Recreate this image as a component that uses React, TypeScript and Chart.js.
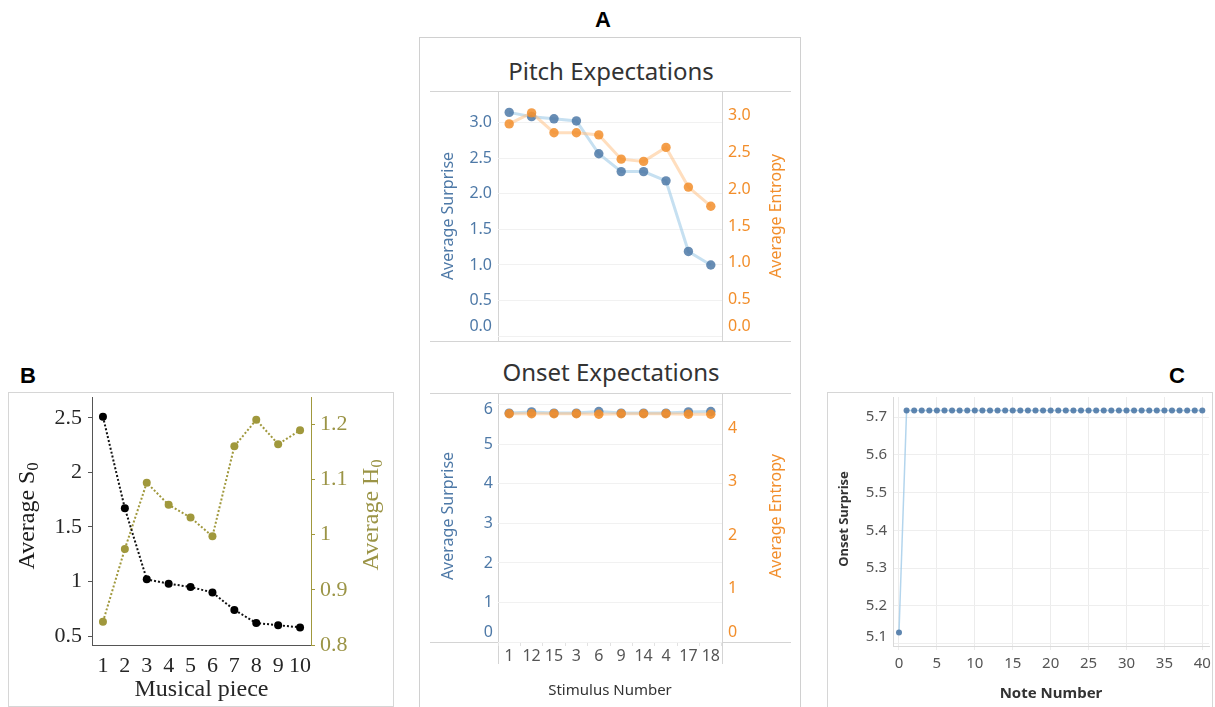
import React, { useEffect, useRef } from 'react';
import { Chart, registerables } from 'chart.js';

Chart.register(...registerables);

// ---------- Panel A data ----------
const stimulusNumbers = ['1', '12', '15', '3', '6', '9', '14', '4', '17', '18'];
const pitchSurprise = [3.14, 3.08, 3.05, 3.02, 2.56, 2.31, 2.31, 2.18, 1.19, 1.0];
const pitchEntropy = [2.89, 3.04, 2.77, 2.77, 2.74, 2.41, 2.38, 2.57, 2.03, 1.77];
const onsetSurprise = [5.79, 5.82, 5.79, 5.79, 5.83, 5.79, 5.79, 5.79, 5.82, 5.83];
const onsetEntropy = [4.27, 4.27, 4.27, 4.27, 4.26, 4.27, 4.27, 4.27, 4.26, 4.26];
const pitchSurpriseTicks = [0, 0.5, 1, 1.5, 2, 2.5, 3];
const pitchEntropyTicks = [0, 0.5, 1, 1.5, 2, 2.5, 3];
const onsetSurpriseTicks = [0, 1, 2, 3, 4, 5, 6];
const onsetEntropyTicks = [0, 1, 2, 3, 4];

// ---------- Panel B data ----------
const musicalPieces = [1, 2, 3, 4, 5, 6, 7, 8, 9, 10];
const averageS0 = [2.51, 1.67, 1.02, 0.98, 0.95, 0.9, 0.74, 0.62, 0.6, 0.58];
const averageH0 = [0.842, 0.974, 1.094, 1.054, 1.031, 0.997, 1.16, 1.208, 1.164, 1.189];
const s0Ticks = [0.5, 1, 1.5, 2, 2.5];
const h0Ticks = [0.8, 0.9, 1, 1.1, 1.2];
const pieceTicks = [1, 2, 3, 4, 5, 6, 7, 8, 9, 10];

// ---------- Panel C data ----------
const noteNumbers = [0, 1, 2, 3, 4, 5, 6, 7, 8, 9, 10, 11, 12, 13, 14, 15, 16, 17, 18, 19, 20,
  21, 22, 23, 24, 25, 26, 27, 28, 29, 30, 31, 32, 33, 34, 35, 36, 37, 38, 39, 40];
const noteOnsetSurprise = [5.129, 5.717, 5.717, 5.717, 5.717, 5.717, 5.717, 5.717, 5.717, 5.717, 5.717,
  5.717, 5.717, 5.717, 5.717, 5.717, 5.717, 5.717, 5.717, 5.717, 5.717,
  5.717, 5.717, 5.717, 5.717, 5.717, 5.717, 5.717, 5.717, 5.717, 5.717,
  5.717, 5.717, 5.717, 5.717, 5.717, 5.717, 5.717, 5.717, 5.717, 5.717];
const noteTicks = [0, 5, 10, 15, 20, 25, 30, 35, 40];
const onsetNoteTicks = [5.1, 5.2, 5.3, 5.4, 5.5, 5.6, 5.7];

// ---------- colours & fonts ----------
const BLUE = 'rgb(78,121,167)';
const ORANGE = 'rgb(242,142,43)';
const OLIVE = 'rgb(160,152,60)';
const OLIVE_TEXT = 'rgb(155,148,70)';
const SANS = '"Noto Sans", "Open Sans", sans-serif';
const SERIF = '"Liberation Serif", "DejaVu Serif", serif';

// ---------- helpers ----------
const fixW = (w: number) => (s: any) => { s.width = w; s.paddingTop = 0; s.paddingBottom = 0; };
const fixH = (h: number) => (s: any) => { s.height = h; s.paddingLeft = 0; s.paddingRight = 0; };
const setTicks = (arr: number[]) => (s: any) => { s.ticks = arr.map((v) => ({ value: v })); };

// shift individual edge labels (Tableau pushes clipped edge labels inward)
function edgeTickOpts(size: number, family: string, color: string, fmt: (v: number) => string,
  edges: { value: number; shift: number }[], padding: number) {
  const find = (v: number) => edges.find((e) => Math.abs(e.value - v) < 1e-9);
  return {
    color,
    padding,
    autoSkip: false,
    callback: (v: any) => {
      const e = find(Number(v));
      const t = fmt(Number(v));
      if (!e) return t;
      return e.shift > 0 ? [t, ''] : ['', t];
    },
    font: (ctx: any) => {
      const e = ctx.tick ? find(ctx.tick.value) : undefined;
      return { size, family, lineHeight: e ? `${Math.abs(e.shift) * 2}px` : 1.2 };
    },
  };
}

const rotatedTitles = {
  id: 'rotatedTitles',
  afterDraw(chart: any, _a: any, opts: any) {
    const items = (opts && opts.items) || [];
    const ctx = chart.ctx;
    items.forEach((it: any) => {
      ctx.save();
      ctx.translate(it.x, it.y);
      ctx.rotate(-Math.PI / 2);
      ctx.fillStyle = it.color;
      ctx.textBaseline = 'middle';
      ctx.font = it.font;
      if (it.sub) {
        const mw = ctx.measureText(it.text).width;
        ctx.font = it.subFont;
        const sw = ctx.measureText(it.sub).width;
        const start = -(mw + sw) / 2;
        ctx.textAlign = 'left';
        ctx.font = it.font;
        ctx.fillText(it.text, start, 0);
        ctx.font = it.subFont;
        ctx.fillText(it.sub, start + mw, it.subDy);
      } else {
        ctx.textAlign = 'center';
        ctx.fillText(it.text, 0, 0);
      }
      ctx.restore();
    });
  },
};

const basePlugins = { legend: { display: false }, tooltip: { enabled: false } };

// ---------- configs ----------
function pitchConfig(): any {
  return {
    type: 'line',
    data: {
      labels: stimulusNumbers,
      datasets: [
        {
          label: 'Average Entropy', data: pitchEntropy, yAxisID: 'yR',
          borderColor: 'rgba(255,190,125,0.5)', borderWidth: 3, tension: 0,
          pointRadius: 4.7, pointBackgroundColor: 'rgba(242,142,43,0.85)', pointBorderWidth: 0,
        },
        {
          label: 'Average Surprise', data: pitchSurprise, yAxisID: 'yL',
          borderColor: 'rgba(160,203,232,0.6)', borderWidth: 3, tension: 0,
          pointRadius: 4.7, pointBackgroundColor: 'rgba(78,121,167,0.85)', pointBorderWidth: 0,
        },
      ],
    },
    options: {
      responsive: false, animation: false, events: [],
      layout: { padding: 0 },
      plugins: {
        ...basePlugins,
        rotatedTitles: {
          items: [
            { text: 'Average Surprise', x: 18, y: 124, color: BLUE, font: `16px ${SANS}` },
            { text: 'Average Entropy', x: 346, y: 124, color: ORANGE, font: `16px ${SANS}` },
          ],
        },
      },
      scales: {
        x: { type: 'category', offset: true, display: false, afterFit: fixH(0) },
        yL: {
          position: 'left', min: 0, max: 3.36,
          afterBuildTicks: setTicks(pitchSurpriseTicks), afterFit: fixW(68),
          border: { display: false },
          grid: { color: '#f1f1f1', drawTicks: false },
          ticks: edgeTickOpts(16, SANS, BLUE, (v) => v.toFixed(1), [{ value: 0, shift: 10 }], 6),
        },
        yR: {
          position: 'right', min: 0, max: 3.26,
          afterBuildTicks: setTicks(pitchEntropyTicks), afterFit: fixW(69),
          border: { display: false },
          grid: { display: false, drawOnChartArea: false, drawTicks: false },
          ticks: edgeTickOpts(16, SANS, ORANGE, (v) => v.toFixed(1), [{ value: 0, shift: 10 }], 6),
        },
      },
    },
    plugins: [rotatedTitles],
  };
}

function onsetConfig(): any {
  return {
    type: 'line',
    data: {
      labels: stimulusNumbers,
      datasets: [
        {
          label: 'Average Entropy', data: onsetEntropy, yAxisID: 'yR',
          borderColor: 'rgba(255,190,125,0.5)', borderWidth: 3, tension: 0,
          pointRadius: 4.7, pointBackgroundColor: 'rgba(242,142,43,0.9)', pointBorderWidth: 0,
        },
        {
          label: 'Average Surprise', data: onsetSurprise, yAxisID: 'yL',
          borderColor: 'rgba(160,203,232,0.6)', borderWidth: 3, tension: 0,
          pointRadius: 4.7, pointBackgroundColor: 'rgba(78,121,167,0.85)', pointBorderWidth: 0,
        },
      ],
    },
    options: {
      responsive: false, animation: false, events: [],
      layout: { padding: 0 },
      plugins: {
        ...basePlugins,
        rotatedTitles: {
          items: [
            { text: 'Average Surprise', x: 18, y: 123, color: BLUE, font: `16px ${SANS}` },
            { text: 'Average Entropy', x: 346, y: 123, color: ORANGE, font: `16px ${SANS}` },
          ],
        },
      },
      scales: {
        x: {
          type: 'category', offset: true, afterFit: fixH(65),
          border: { display: false },
          grid: { offset: true, drawOnChartArea: false, drawTicks: true, tickLength: 4, color: '#e2e2e2' },
          ticks: { color: '#555', padding: 1, font: { size: 16, family: SANS }, maxRotation: 0, autoSkip: false },
          title: { display: true, text: 'Stimulus Number', color: '#333', font: { size: 15, family: SANS }, padding: { top: 0, bottom: 7 } },
        },
        yL: {
          position: 'left', min: 0, max: 6.18,
          afterBuildTicks: setTicks(onsetSurpriseTicks), afterFit: fixW(68),
          border: { display: false },
          grid: { color: '#f1f1f1', drawTicks: false },
          ticks: edgeTickOpts(16, SANS, BLUE, (v) => String(v), [{ value: 0, shift: 10 }, { value: 6, shift: -5 }], 5),
        },
        yR: {
          position: 'right', min: 0, max: 4.57,
          afterBuildTicks: setTicks(onsetEntropyTicks), afterFit: fixW(69),
          border: { display: false },
          grid: { display: false, drawOnChartArea: false, drawTicks: false },
          ticks: edgeTickOpts(16, SANS, ORANGE, (v) => String(v), [{ value: 0, shift: 10 }], 6),
        },
      },
    },
    plugins: [rotatedTitles],
  };
}

function panelBConfig(): any {
  return {
    type: 'line',
    data: {
      datasets: [
        {
          label: 'Average S0', data: musicalPieces.map((p, i) => ({ x: p, y: averageS0[i] })), yAxisID: 'yL',
          borderColor: '#111', borderWidth: 2, borderDash: [2, 2], tension: 0,
          pointRadius: 4, pointBackgroundColor: '#000', pointBorderWidth: 0,
        },
        {
          label: 'Average H0', data: musicalPieces.map((p, i) => ({ x: p, y: averageH0[i] })), yAxisID: 'yR',
          borderColor: OLIVE, borderWidth: 2, borderDash: [2, 2], tension: 0,
          pointRadius: 4, pointBackgroundColor: OLIVE, pointBorderWidth: 0,
        },
      ],
    },
    options: {
      responsive: false, animation: false, events: [],
      layout: { padding: { top: 1, left: 0, right: 0, bottom: 0 } },
      plugins: {
        ...basePlugins,
        rotatedTitles: {
          items: [
            { text: 'Average S', sub: '0', x: 20, y: 123, color: '#1a1a1a', font: `24px ${SERIF}`, subFont: `16px ${SERIF}`, subDy: 6 },
            { text: 'Average H', sub: '0', x: 364, y: 122, color: OLIVE_TEXT, font: `24px ${SERIF}`, subFont: `16px ${SERIF}`, subDy: 6 },
          ],
        },
      },
      scales: {
        x: {
          type: 'linear', min: 0.5, max: 10.5,
          afterBuildTicks: setTicks(pieceTicks), afterFit: fixH(61),
          border: { display: true, color: '#555', width: 1 },
          grid: { display: false },
          ticks: { color: '#262626', padding: 0, font: { size: 22, family: SERIF }, maxRotation: 0, autoSkip: false, callback: (v: any) => String(v) },
          title: { display: true, text: 'Musical piece', color: '#262626', font: { size: 24, family: SERIF }, padding: { top: 0, bottom: 2 } },
        },
        yL: {
          position: 'left', min: 0.4186, max: 2.69,
          afterBuildTicks: setTicks(s0Ticks), afterFit: fixW(84),
          border: { display: true, color: '#555', width: 1 },
          grid: { drawOnChartArea: false, drawTicks: true, tickLength: 4, color: '#555' },
          ticks: { color: '#262626', padding: 6, autoSkip: false, font: { size: 22, family: SERIF }, callback: (v: any) => String(v) },
        },
        yR: {
          position: 'right', min: 0.8, max: 1.2494,
          afterBuildTicks: setTicks(h0Ticks), afterFit: fixW(82),
          border: { display: true, color: OLIVE, width: 1 },
          grid: { drawOnChartArea: false, drawTicks: true, tickLength: 4, color: OLIVE },
          ticks: { color: OLIVE_TEXT, padding: 5, autoSkip: false, font: { size: 22, family: SERIF }, callback: (v: any) => String(v) },
        },
      },
    },
    plugins: [rotatedTitles],
  };
}

function panelCConfig(): any {
  return {
    type: 'line',
    data: {
      datasets: [
        {
          label: 'Onset Surprise', data: noteNumbers.map((n, i) => ({ x: n, y: noteOnsetSurprise[i] })),
          borderColor: 'rgba(160,203,232,0.8)', borderWidth: 1.5, tension: 0,
          pointRadius: 3, pointBackgroundColor: 'rgba(78,121,167,0.9)', pointBorderWidth: 0,
        },
      ],
    },
    options: {
      responsive: false, animation: false, events: [],
      layout: { padding: { top: 0, left: 0, right: 3, bottom: 0 } },
      plugins: {
        ...basePlugins,
        rotatedTitles: {
          items: [
            { text: 'Onset Surprise', x: 16, y: 126, color: '#333', font: `bold 13px ${SANS}` },
          ],
        },
      },
      scales: {
        x: {
          type: 'linear', min: -0.79, max: 40.88,
          afterBuildTicks: setTicks(noteTicks), afterFit: fixH(61),
          border: { display: true, color: '#d9d9d9' },
          grid: { color: '#ececec', drawTicks: true, tickLength: 4 },
          ticks: { color: '#555', padding: 5, font: { size: 15, family: SANS }, maxRotation: 0, autoSkip: false },
          title: { display: true, text: 'Note Number', color: '#333', font: { size: 15, family: SANS, weight: 'bold' }, padding: { top: 0, bottom: 4 } },
        },
        y: {
          position: 'left', min: 5.0935, max: 5.753,
          afterBuildTicks: setTicks(onsetNoteTicks), afterFit: fixW(65),
          border: { display: true, color: '#d9d9d9' },
          grid: { color: '#eeeeee', drawTicks: false },
          ticks: edgeTickOpts(15, SANS, '#555', (v) => v.toFixed(1), [{ value: 5.1, shift: 6.5 }], 6),
        },
      },
    },
    plugins: [rotatedTitles],
  };
}

// ---------- components ----------
function ChartCanvas({ make, left, top, width, height }: { make: () => any; left: number; top: number; width: number; height: number }) {
  const ref = useRef<HTMLCanvasElement>(null);
  useEffect(() => {
    const chart = new Chart(ref.current as HTMLCanvasElement, make());
    return () => chart.destroy();
  }, []);
  return (
    <canvas ref={ref} width={width} height={height}
      style={{ position: 'absolute', left, top, width, height, display: 'block' }} />
  );
}

const Line = ({ l, t, w, h, c }: { l: number; t: number; w: number; h: number; c: string }) => (
  <div style={{ position: 'absolute', left: l, top: t, width: w, height: h, background: c }} />
);

const Label = ({ text, cx, cy, size, weight, color, family, w = 400 }: any) => (
  <div style={{
    position: 'absolute', left: cx - w / 2, top: cy - size, width: w, height: size * 2,
    lineHeight: `${size * 2}px`, textAlign: 'center', fontSize: size, fontWeight: weight,
    color, fontFamily: family, whiteSpace: 'nowrap',
  }}>{text}</div>
);

export default function App() {
  const SEP = '#d4d4d4';
  return (
    <div style={{ position: 'absolute', left: 0, top: 0, width: 1215, height: 707, background: '#fff', overflow: 'hidden' }}>
      {/* Panel A frame */}
      <div style={{ position: 'absolute', left: 419, top: 37, width: 382, height: 690, border: '1px solid #d0d0d0', boxSizing: 'border-box' }} />
      <Line l={430} t={91} w={361} h={1} c={SEP} />
      <Line l={430} t={341} w={361} h={1} c={SEP} />
      <Line l={430} t={393} w={361} h={1} c={SEP} />
      <Line l={430} t={642} w={361} h={1} c={SEP} />
      <Line l={498} t={92} w={1} h={250} c={SEP} />
      <Line l={722} t={92} w={1} h={250} c={SEP} />
      <Line l={498} t={393} w={1} h={271} c={SEP} />
      <Line l={722} t={393} w={1} h={271} c={SEP} />

      {/* Panel B frame */}
      <div style={{ position: 'absolute', left: 8, top: 392, width: 386, height: 315, border: '1px solid #d6d6d6', boxSizing: 'border-box' }} />
      {/* Panel C frame */}
      <div style={{ position: 'absolute', left: 827, top: 392, width: 386, height: 330, border: '1px solid #d6d6d6', boxSizing: 'border-box' }} />

      {/* Panel letters and titles */}
      <Label text="A" cx={603} cy={20} size={22} weight="bold" color="#000" family={'"Liberation Sans", Arial, sans-serif'} w={40} />
      <Label text="B" cx={28} cy={376} size={22} weight="bold" color="#000" family={'"Liberation Sans", Arial, sans-serif'} w={40} />
      <Label text="C" cx={1177} cy={376} size={22} weight="bold" color="#000" family={'"Liberation Sans", Arial, sans-serif'} w={40} />
      <Label text="Pitch Expectations" cx={611} cy={71} size={24} weight="normal" color="#333" family={SANS} />
      <Label text="Onset Expectations" cx={611} cy={372} size={24} weight="normal" color="#333" family={SANS} />

      <ChartCanvas make={pitchConfig} left={430} top={92} width={361} height={249} />
      <ChartCanvas make={onsetConfig} left={430} top={393} width={361} height={314} />
      <ChartCanvas make={panelBConfig} left={8} top={393} width={385} height={313} />
      <ChartCanvas make={panelCConfig} left={828} top={393} width={385} height={314} />
    </div>
  );
}
